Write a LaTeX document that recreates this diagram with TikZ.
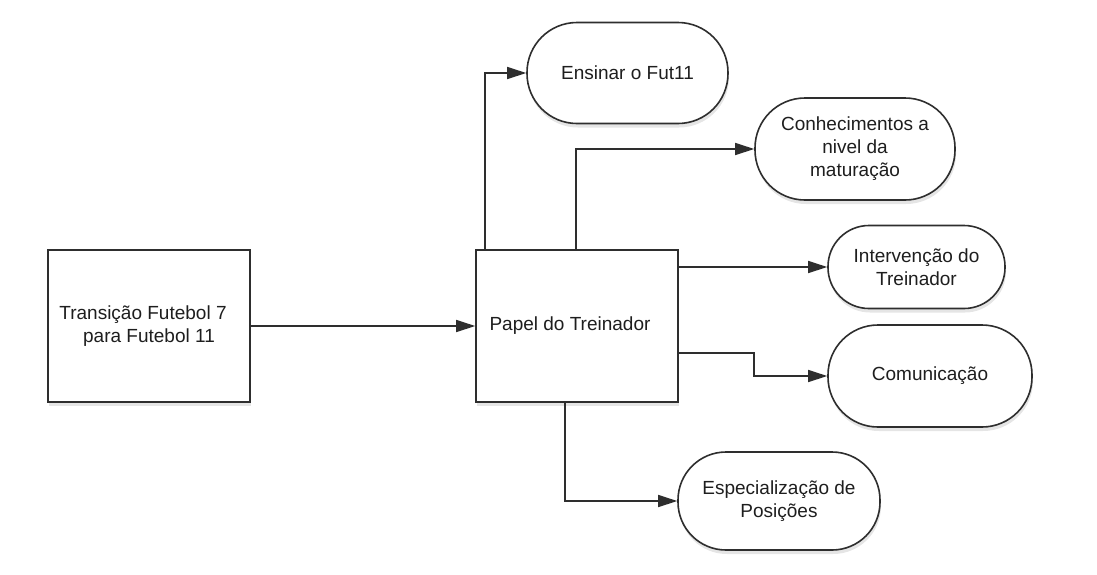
\documentclass[tikz,border=0pt]{standalone}
\usepackage{fontspec}
\setmainfont{Liberation Sans}
\usetikzlibrary{arrows.meta,shadows}
\definecolor{ink}{HTML}{1E1E1E}
\definecolor{edge}{HTML}{2E2E2E}
\tikzset{
  sq/.style={draw=edge, line width=1.6pt, fill=white, minimum width=202pt, minimum height=152pt, inner sep=0pt,
    font=\fontsize{19}{23}\selectfont, text=ink, align=center,
    drop shadow={shadow xshift=1pt, shadow yshift=-4pt, opacity=0.10, fill=black}},
  pill/.style={draw=edge, line width=1.6pt, fill=white, rounded corners=#1, inner sep=0pt,
    font=\fontsize{19}{23}\selectfont, text=ink, align=center,
    drop shadow={shadow xshift=1pt, shadow yshift=-4pt, opacity=0.10, fill=black}},
  arr/.style={draw=edge, line width=1.5pt, -{Triangle[length=19pt,width=12pt]}}
}
\begin{document}
\begin{tikzpicture}[x=1pt,y=-1pt]
\useasboundingbox (0,0) rectangle (1097,574);
\fill[white] (0,0) rectangle (1097,574);
\node[sq] (trans) at (149,326) {\hspace*{-12pt}Transição Futebol 7\\para Futebol 11};
\node[sq] (papel) at (577,326) {\hspace*{-14pt}Papel do Treinador};
\node[pill=50pt, minimum width=201pt, minimum height=101pt] (ens) at (627.5,73) {Ensinar o Fut11};
\node[pill=50pt, minimum width=200pt, minimum height=102pt] (con) at (855,149) {Conhecimentos a\\nivel da\\maturação};
\node[pill=41pt, minimum width=177pt, minimum height=83pt] (int) at (916.5,267) {Intervenção do\\Treinador};
\node[pill=50pt, minimum width=204pt, minimum height=102pt] (com) at (930,376) {Comunicação};
\node[pill=48pt, minimum width=202pt, minimum height=98pt] (esp) at (779,501) {Especialização de\\Posições};
\draw[arr] (trans.east) -- (papel.west);
\draw[arr] ([xshift=10pt]papel.north west) |- (ens.west);
\draw[arr] ([xshift=101pt]papel.north west) |- (con.west);
\draw[arr] (papel.east |- int.west) -- (int.west);
\draw[arr] ([yshift=-104pt]papel.north east) -- ++(75,0) |- (com.west);
\draw[arr] ([xshift=90pt]papel.south west) |- (esp.west);
\end{tikzpicture}
\end{document}
